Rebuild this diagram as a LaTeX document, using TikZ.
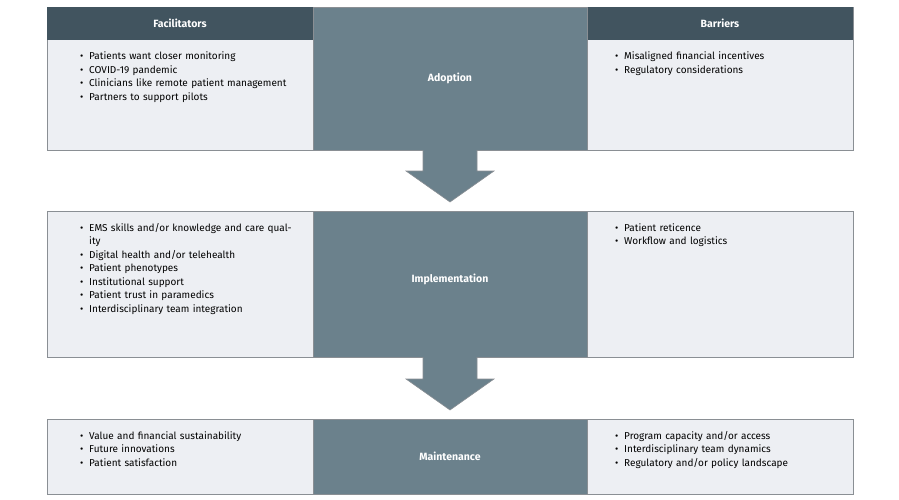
\documentclass[tikz,border=0pt]{standalone}
\usepackage{fontspec}
\setmainfont{Fira Sans}
\usepackage{tikz}
\definecolor{hdr}{HTML}{41545F}
\definecolor{mid}{HTML}{6B818C}
\definecolor{pale}{HTML}{EDEFF3}
\definecolor{rim}{HTML}{8A8F94}
\newcommand\blt[1]{\hangindent=9pt\hangafter=1\noindent\makebox[9pt][l]{\textbullet}#1\par}
\tikzset{
  panel/.style={fill=pale, draw=rim, line width=0.8pt},
  stage/.style={fill=mid, draw=rim, line width=0.8pt},
  head/.style={fill=hdr},
  lst/.style={anchor=north west, inner sep=0pt, text width=#1, font=\fontsize{10}{13.5}\selectfont},
  lst/.default=212pt,
  ttl/.style={text=white, font=\fontsize{10.5}{12}\selectfont\bfseries},
  pointer/.style={fill=mid, draw=rim, line width=0.6pt}
}
\begin{document}
\begin{tikzpicture}[x=1pt,y=-1pt]
    \useasboundingbox (0,0) rectangle (899,500);

    % Panels
    \draw[panel] (47,7) rectangle (853,150);
    \draw[panel] (47,211) rectangle (853,357);
    \draw[panel] (47,419) rectangle (853,494);

    % Headers
    \fill[head] (47,7) rectangle (313,40);
    \fill[head] (587,7) rectangle (853,40);
    \node[ttl] (fac) at (180,23.5) {Facilitators};
    \node[ttl] (bar) at (720,23.5) {Barriers};

    % Stages
    \draw[stage] (313,7) rectangle (587,150);
    \draw[stage] (313,211) rectangle (587,357);
    \draw[stage] (313,419) rectangle (587,494);
    \node[ttl] (adopt) at (450,78) {Adoption};
    \node[ttl] (impl) at (450,279) {Implementation};
    \node[ttl] (maint) at (450,456) {Maintenance};

    % Arrows
    \draw[pointer] (423,150) -- (423,171) -- (406,171) -- (450,202) -- (494,171) -- (477,171) -- (477,150);
    \draw[pointer] (423,357) -- (423,379) -- (406,379) -- (450,410) -- (494,379) -- (477,379) -- (477,357);

    % Lists
    \node[lst] (f1) at (80,52) {\blt{Patients want closer monitoring}\blt{COVID-19 pandemic}\blt{Clinicians like remote patient management}\blt{Partners to support pilots}};
    \node[lst] (b1) at (615,52) {\blt{Misaligned financial incentives}\blt{Regulatory considerations}};
    \node[lst] (f2) at (80,223) {\blt{EMS skills and/or knowledge and care quality}\blt{Digital health and/or telehealth}\blt{Patient phenotypes}\blt{Institutional support}\blt{Patient trust in paramedics}\blt{Interdisciplinary team integration}};
    \node[lst] (b2) at (615,223) {\blt{Patient reticence}\blt{Workflow and logistics}};
    \node[lst] (f3) at (80,431) {\blt{Value and financial sustainability}\blt{Future innovations}\blt{Patient satisfaction}};
    \node[lst] (b3) at (615,431) {\blt{Program capacity and/or access}\blt{Interdisciplinary team dynamics}\blt{Regulatory and/or policy landscape}};
\end{tikzpicture}
\end{document}
